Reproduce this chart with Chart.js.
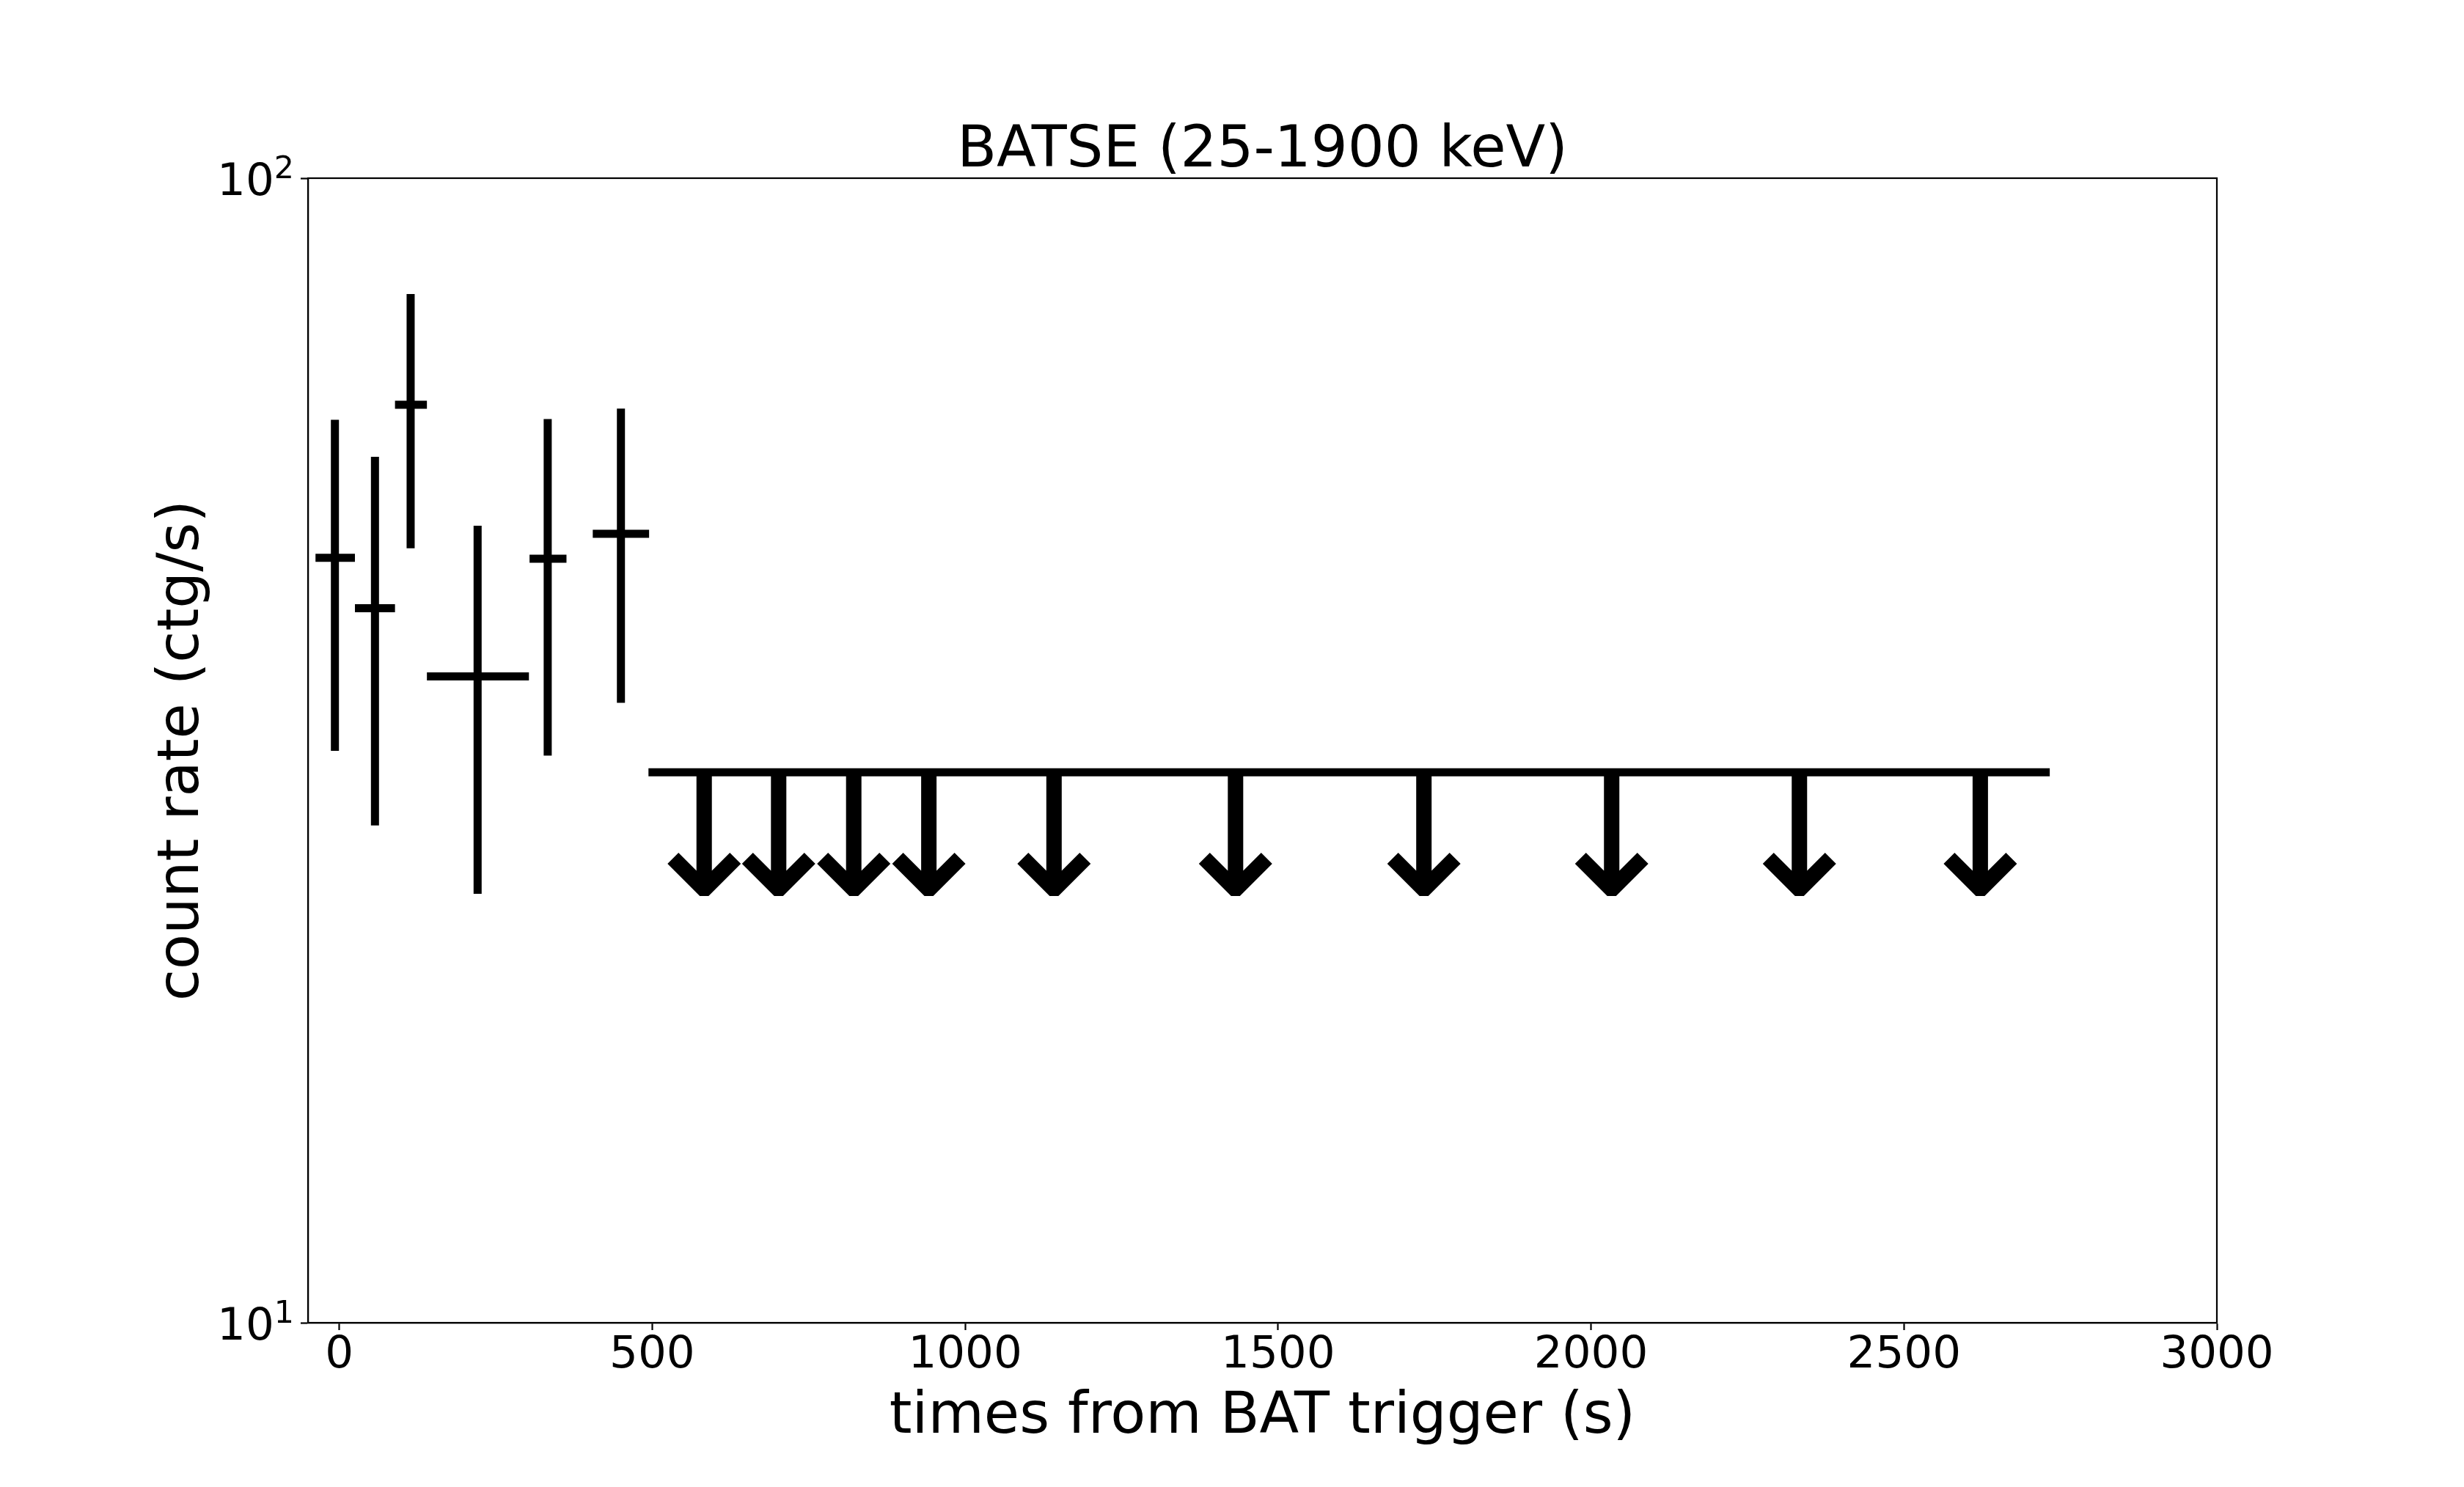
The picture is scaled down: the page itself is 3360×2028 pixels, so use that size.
<!DOCTYPE html>
<html>
<head>
<meta charset="utf-8">
<script src="https://cdn.jsdelivr.net/npm/chart.js@4.4.1/dist/chart.umd.min.js"></script>
<style>
  html, body { margin: 0; padding: 0; background: #fff; }
  canvas { display: block; }
</style>
</head>
<body>
<canvas id="chart" width="3360" height="2028"></canvas>
<script>
// axis ticks
const xTicks = [0, 500, 1000, 1500, 2000, 2500, 3000];
const yTicks = [10, 100];
const yTickExp = ['1', '2'];

// detections (time, time range, rate, rate range)
const detTime   = [-7, 57, 114, 221, 333, 450];
const detTimeLo = [-38, 25, 89, 140, 304, 405];
const detTimeHi = [25, 89, 140, 303, 363, 495];
const detRate   = [46.6, 42.1, 63.4, 36.7, 46.5, 48.9];
const detRateLo = [31.6, 27.2, 47.5, 23.7, 31.3, 34.8];
const detRateHi = [61.5, 57.1, 79.2, 49.7, 61.6, 62.9];

// upper limits
const ulTime    = [583, 702, 822, 942, 1142, 1432, 1733, 2033, 2333, 2622];
const ulTimeLo  = [494, 615, 734, 855, 975, 1255, 1555, 1855, 2157, 2457];
const ulTimeHi  = [615, 734, 855, 975, 1255, 1555, 1855, 2157, 2457, 2733];
const ulRate    = [30.26, 30.26, 30.26, 30.26, 30.26, 30.26, 30.26, 30.26, 30.26, 30.26];
const ulArrowTo = [23.6, 23.6, 23.6, 23.6, 23.6, 23.6, 23.6, 23.6, 23.6, 23.6];

const titleText = 'BATSE (25-1900 keV)';
const xLabel = 'times from BAT trigger (s)';
const yLabel = 'count rate (ctg/s)';

const FONT = '"DejaVu Sans", sans-serif';

// line segments separated by gaps (y: null)
const detXBars = [];
const detYBars = [];
detTime.forEach((t, i) => {
    detXBars.push({x: detTimeLo[i], y: detRate[i]}, {x: detTimeHi[i], y: detRate[i]}, {x: t, y: null});
    detYBars.push({x: t, y: detRateLo[i]}, {x: t, y: detRateHi[i]}, {x: t, y: null});
});
const ulBars = [];
ulTime.forEach((t, i) => {
    ulBars.push({x: ulTimeLo[i], y: ulRate[i]}, {x: ulTimeHi[i], y: ulRate[i]}, {x: t, y: null});
});

// 上限値の矢印（位置はスケールから、矢じりの大きさはピクセル単位）
const arrowPlugin = {
    id: 'arrows',
    afterDatasetsDraw(chart) {
        const {ctx, scales: {x, y}} = chart;
        const s = 10.5;
        ctx.save();
        ctx.fillStyle = '#000';
        ulTime.forEach((t, i) => {
            const px = x.getPixelForValue(t);
            const top = y.getPixelForValue(ulRate[i]);
            const tip = y.getPixelForValue(ulArrowTo[i]);
            ctx.beginPath();
            ctx.moveTo(px - s, top);
            ctx.lineTo(px - s, tip - 34.5);
            ctx.lineTo(px - 35, tip - 59);
            ctx.lineTo(px - 50, tip - 44);
            ctx.lineTo(px - 6, tip);
            ctx.lineTo(px + 6, tip);
            ctx.lineTo(px + 50, tip - 44);
            ctx.lineTo(px + 35, tip - 59);
            ctx.lineTo(px + s, tip - 34.5);
            ctx.lineTo(px + s, top);
            ctx.closePath();
            ctx.fill();
        });
        ctx.restore();
    }
};

// 枠線・タイトル・軸ラベル・y目盛ラベル
const textPlugin = {
    id: 'texts',
    afterDraw(chart) {
        const {ctx, chartArea: a, scales: {y}} = chart;
        ctx.save();
        ctx.strokeStyle = '#000';
        ctx.lineWidth = 2.2;
        ctx.strokeRect(a.left, a.top, a.right - a.left, a.bottom - a.top);

        ctx.fillStyle = '#000';
        ctx.textBaseline = 'alphabetic';
        yTicks.forEach((v, i) => {
            const py = y.getPixelForValue(v);
            ctx.font = '42.8px ' + FONT;
            const sw = ctx.measureText(yTickExp[i]).width;
            const xs = a.left - 19 - sw;
            ctx.textAlign = 'left';
            ctx.fillText(yTickExp[i], xs, py);
            ctx.font = '61.1px ' + FONT;
            ctx.textAlign = 'right';
            ctx.fillText('10', xs, py + 23);
        });

        ctx.font = '78.5px ' + FONT;
        ctx.textAlign = 'center';
        const cx = (a.left + a.right) / 2;
        ctx.fillText(titleText, cx, a.top - 16);
        ctx.fillText(xLabel, cx, a.bottom + 150);
        ctx.translate(a.left - 150, (a.top + a.bottom) / 2);
        ctx.rotate(-Math.PI / 2);
        ctx.fillText(yLabel, 0, 0);
        ctx.restore();
    }
};

const lineStyle = {
    borderColor: '#000',
    borderWidth: 11,
    borderCapStyle: 'butt',
    pointRadius: 0,
    pointHoverRadius: 0,
    fill: false,
    tension: 0,
    spanGaps: false
};

new Chart(document.getElementById('chart'), {
    type: 'line',
    data: {
        datasets: [
            Object.assign({label: 'det-x', data: detXBars}, lineStyle),
            Object.assign({label: 'det-y', data: detYBars}, lineStyle),
            Object.assign({label: 'ul', data: ulBars}, lineStyle)
        ]
    },
    options: {
        responsive: false,
        devicePixelRatio: 1,
        animation: false,
        events: [],
        layout: { padding: { left: 0, right: 337, top: 243, bottom: 0 } },
        plugins: { legend: { display: false }, tooltip: { enabled: false } },
        scales: {
            x: {
                type: 'linear',
                min: -50,
                max: 3000,
                afterBuildTicks: s => { s.ticks = xTicks.map(v => ({value: v})); },
                afterFit: s => { s.height = 224; },
                ticks: {
                    color: '#000',
                    font: { family: FONT, size: 61.1 },
                    padding: -2,
                    maxRotation: 0,
                    autoSkip: false,
                    callback: v => String(v)
                },
                grid: { display: true, drawOnChartArea: false, drawTicks: true, tickLength: 10, tickWidth: 2.2, tickColor: '#000', color: '#000' },
                border: { display: true, color: '#000', width: 2.2 }
            },
            y: {
                type: 'logarithmic',
                min: 10,
                max: 100,
                afterBuildTicks: s => { s.ticks = yTicks.map(v => ({value: v})); },
                afterFit: s => { s.width = 420; },
                ticks: { display: false },
                grid: { display: true, drawOnChartArea: false, drawTicks: true, tickLength: 10, tickWidth: 2.2, tickColor: '#000', color: '#000' },
                border: { display: true, color: '#000', width: 2.2 }
            }
        }
    },
    plugins: [arrowPlugin, textPlugin]
});
</script>
</body>
</html>
